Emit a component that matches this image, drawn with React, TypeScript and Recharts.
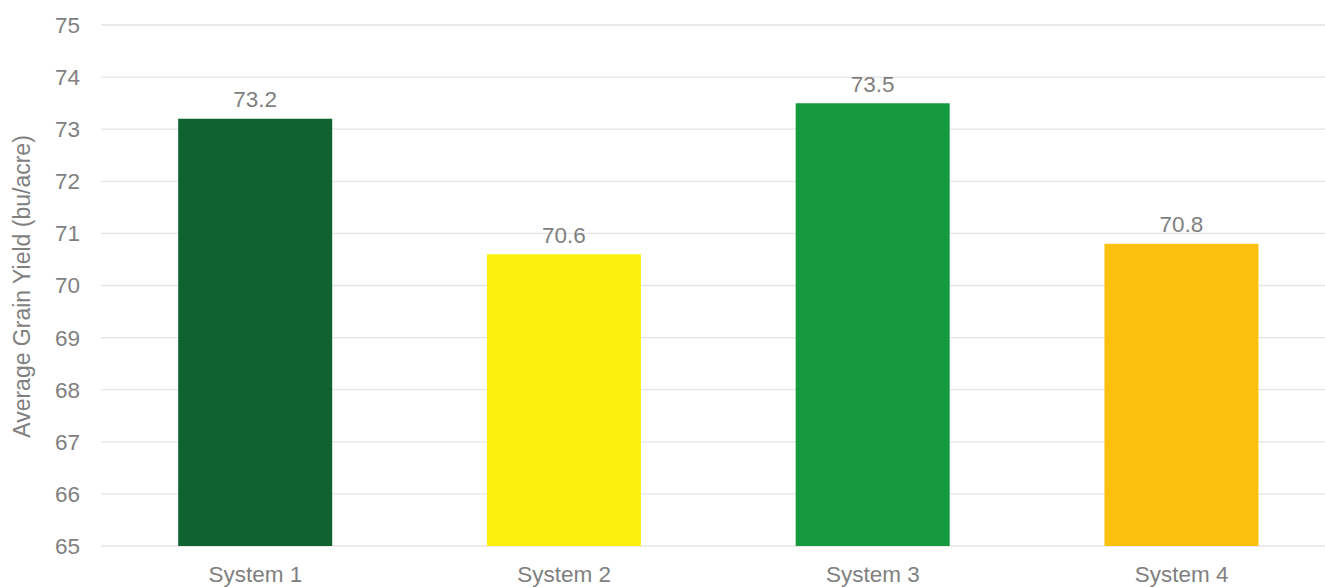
import React from 'react';
import { BarChart, Bar, XAxis, YAxis, CartesianGrid, LabelList, Cell, Label } from 'recharts';

const categories = ['System 1', 'System 2', 'System 3', 'System 4'];
const yields = [73.2, 70.6, 73.5, 70.8];
const barColors = ['#0e632f', '#fcf00c', '#169a40', '#fcc10f'];
const yTicks = [65, 66, 67, 68, 69, 70, 71, 72, 73, 74, 75];

const data = categories.map((name, i) => ({ name, value: yields[i] }));

const FONT = '"Liberation Sans", Arial, Helvetica, sans-serif';
const TEXT = '#7f7f7f';
const FS = 22.5;

const YLabel = (props: any) => {
  const vb = props.viewBox || { x: 0, y: 0, width: 0, height: 0 };
  const cx = vb.x + 22;
  const cy = vb.y + vb.height / 2 + 1;
  return (
    <text x={cx} y={cy} transform={`rotate(-90, ${cx}, ${cy})`} textAnchor="middle" dominantBaseline="central"
      fill={TEXT} fontSize={23} fontFamily={FONT}>
      Average Grain Yield (bu/acre)
    </text>
  );
};

export default function App() {
  return (
    <div style={{ position: 'absolute', left: 0, top: 0, width: 1325, height: 587, overflow: 'hidden', background: '#fff' }}>
      <BarChart width={1345} height={587} data={data} margin={{ top: 25, right: 9, bottom: 0, left: 0 }} barCategoryGap="25%">
        <CartesianGrid vertical={false} stroke="#e4e4e4" strokeWidth={1.3} />
        <XAxis dataKey="name" axisLine={false} tickLine={false} tickSize={0} tickMargin={20} height={41}
          tick={{ fill: TEXT, fontSize: FS, fontFamily: FONT }} interval={0} />
        <YAxis domain={[65, 75]} ticks={yTicks} axisLine={false} tickLine={false} tickSize={0} tickMargin={21} width={101}
          tick={{ fill: TEXT, fontSize: FS, fontFamily: FONT }} allowDataOverflow>
          <Label content={<YLabel />} position="left" />
        </YAxis>
        <Bar dataKey="value" isAnimationActive={false}>
          {data.map((d, i) => (
            <Cell key={d.name} fill={barColors[i]} />
          ))}
          <LabelList dataKey="value" position="top" offset={11.5} fill={TEXT} fontSize={FS} fontFamily={FONT} />
        </Bar>
      </BarChart>
    </div>
  );
}
